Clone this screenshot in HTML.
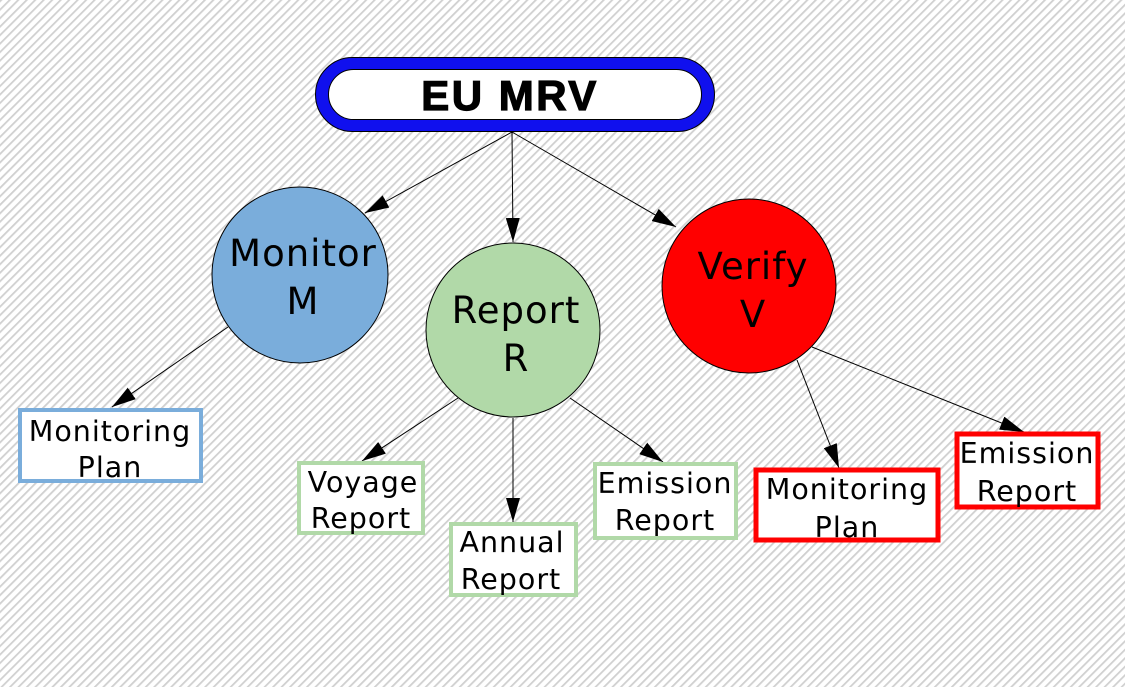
<!DOCTYPE html>
<html><head><meta charset="utf-8"><style>
html,body{margin:0;padding:0;width:1125px;height:687px;overflow:hidden;background:#fff}
svg{display:block}
text{font-family:"DejaVu Sans","Liberation Sans",sans-serif;fill:#000}
.c{font-size:37px;text-anchor:middle;letter-spacing:1px}
.b{font-size:28.5px;text-anchor:middle;letter-spacing:1px}
</style></head><body>
<svg width="1125" height="687" viewBox="0 0 1125 687" xmlns="http://www.w3.org/2000/svg">
<defs>
<pattern id="h" width="6" height="6" patternUnits="userSpaceOnUse" patternTransform="rotate(45)">
<rect width="6" height="6" fill="#fff"/><rect width="1.8" height="6" fill="#d0d0d0"/>
</pattern>
<marker id="a2" markerWidth="24" markerHeight="14" refX="24" refY="7" orient="auto" markerUnits="userSpaceOnUse" viewBox="0 0 24 14">
<path d="M0,0 L24,7 L0,14 Z" fill="#000"/>
</marker>
</defs>
<rect width="1125" height="687" fill="url(#h)"/>

<g stroke="#000" stroke-width="1" fill="none">
<line x1="512" y1="132" x2="365" y2="213" marker-end="url(#a2)"/>
<line x1="512" y1="132" x2="513" y2="242" marker-end="url(#a2)"/>
<line x1="512" y1="132" x2="676" y2="227" marker-end="url(#a2)"/>
<line x1="228" y1="327" x2="112" y2="407" marker-end="url(#a2)"/>
<line x1="458" y1="398" x2="362" y2="461" marker-end="url(#a2)"/>
<line x1="513" y1="418" x2="513" y2="522" marker-end="url(#a2)"/>
<line x1="570" y1="398" x2="663" y2="462" marker-end="url(#a2)"/>
<line x1="797" y1="360" x2="839" y2="468" marker-end="url(#a2)"/>
<line x1="812" y1="347" x2="1024" y2="432" marker-end="url(#a2)"/>
</g>

<rect x="315.5" y="57.5" width="399" height="74" rx="37" fill="#1010ee" stroke="#000" stroke-width="1"/>
<rect x="328.5" y="69.5" width="373" height="50" rx="25" fill="#fff" stroke="#000" stroke-width="1"/>
<text x="510" y="110" style="font-family:'Liberation Sans',sans-serif;font-weight:bold;font-size:42px;text-anchor:middle;letter-spacing:2.5px;stroke:#000;stroke-width:1.2">EU MRV</text>

<circle cx="300" cy="275" r="88" fill="#7aaddb" stroke="#000" stroke-width="1"/>
<text class="c" x="303" y="266">Monitor</text>
<text class="c" x="303" y="314">M</text>

<circle cx="513" cy="330" r="87" fill="#b1d9a8" stroke="#000" stroke-width="1"/>
<text class="c" x="516" y="323">Report</text>
<text class="c" x="516" y="371">R</text>

<circle cx="749" cy="286" r="87" fill="#ff0000" stroke="#000" stroke-width="1"/>
<text class="c" x="753" y="279">Verify</text>
<text class="c" x="753" y="327">V</text>

<rect x="20" y="410" width="181" height="71" fill="#fff" stroke="#7aaddb" stroke-width="4"/>
<text class="b" x="110" y="441">Monitoring</text>
<text class="b" x="110" y="477">Plan</text>

<rect x="299" y="463" width="124" height="70" fill="#fff" stroke="#b1d9a8" stroke-width="4"/>
<text class="b" x="363" y="492">Voyage</text>
<text class="b" x="361" y="528">Report</text>

<rect x="451" y="524" width="125" height="71" fill="#fff" stroke="#b1d9a8" stroke-width="4"/>
<text class="b" x="512" y="552">Annual</text>
<text class="b" x="511" y="589">Report</text>

<rect x="595" y="464" width="141" height="74" fill="#fff" stroke="#b1d9a8" stroke-width="4"/>
<text class="b" x="665" y="493">Emission</text>
<text class="b" x="665" y="530">Report</text>

<rect x="756" y="470" width="182" height="70" fill="#fff" stroke="#ff0000" stroke-width="5"/>
<text class="b" x="847" y="499">Monitoring</text>
<text class="b" x="847" y="537">Plan</text>

<rect x="957" y="434" width="141" height="73" fill="#fff" stroke="#ff0000" stroke-width="5"/>
<text class="b" x="1027" y="463">Emission</text>
<text class="b" x="1027" y="501">Report</text>
</svg>
</body></html>
